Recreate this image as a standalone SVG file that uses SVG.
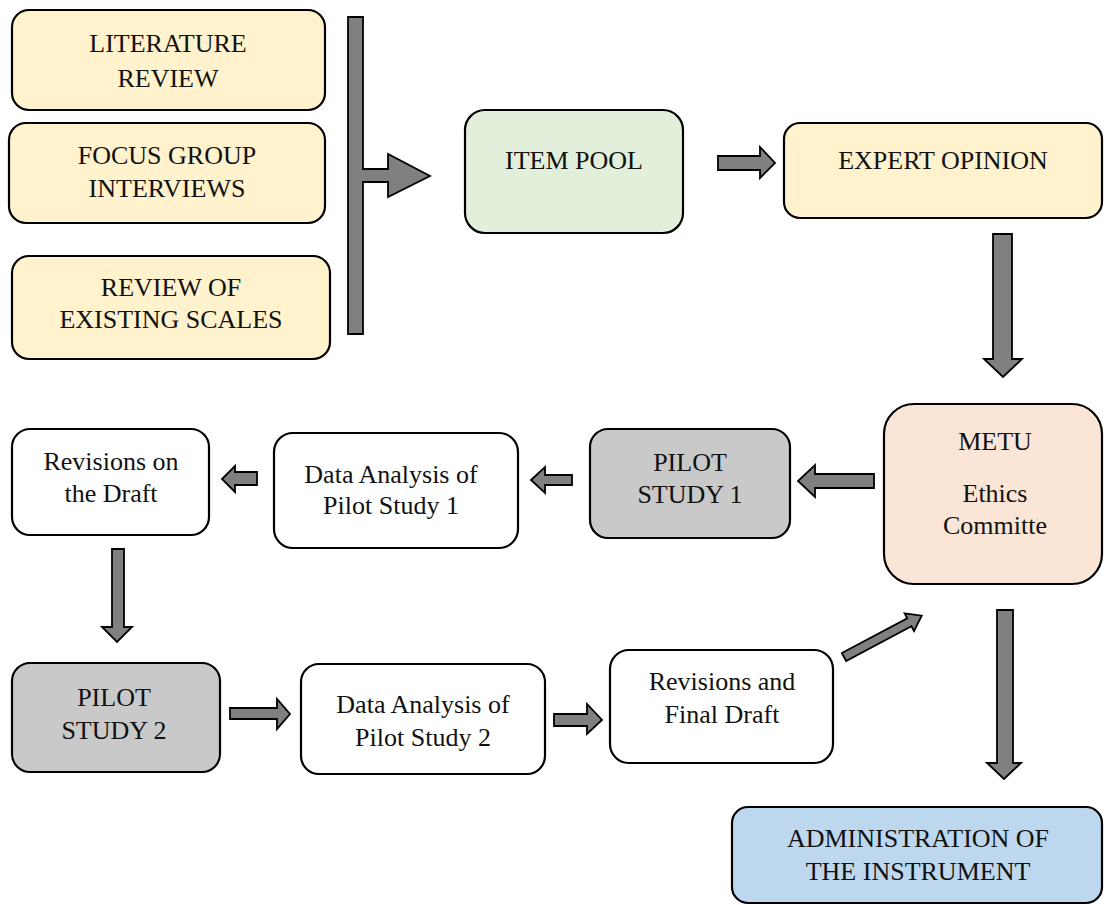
<svg xmlns="http://www.w3.org/2000/svg" width="1104" height="905" viewBox="0 0 1104 905">
<style>
.box{stroke:#000;stroke-width:2.2}
.cream{fill:#FFF2CC}.green{fill:#E2EFDA}.grey{fill:#C9C9C9}.peach{fill:#FBE5D6}.blue{fill:#BDD7EE}.white{fill:#FFFFFF}
text{font-family:"Liberation Serif","Times New Roman",serif;font-size:26px;fill:#111;text-anchor:middle}
.arr{fill:#808080;stroke:#000;stroke-width:1.8;stroke-linejoin:miter}
</style>
<rect width="1104" height="905" fill="#fff"/>
<g id="lit"><rect class="box cream" x="12" y="10" width="313" height="100" rx="17"/><text x="168" y="52">LITERATURE</text><text x="168" y="87">REVIEW</text></g>
<g id="focus"><rect class="box cream" x="9" y="123" width="316" height="100" rx="17"/><text x="167" y="164">FOCUS GROUP</text><text x="167" y="197">INTERVIEWS</text></g>
<g id="review"><rect class="box cream" x="12" y="256" width="318" height="103" rx="17"/><text x="171" y="296">REVIEW OF</text><text x="171" y="328">EXISTING SCALES</text></g>
<g id="itempool"><rect class="box green" x="465" y="110" width="218" height="123" rx="20"/><text x="574" y="169">ITEM POOL</text></g>
<g id="expert"><rect class="box cream" x="784" y="123" width="318" height="95" rx="16"/><text x="943" y="169">EXPERT OPINION</text></g>
<g id="metu"><rect class="box peach" x="884" y="404" width="218" height="180" rx="30"/><text x="995" y="450">METU</text><text x="995" y="502">Ethics</text><text x="995" y="534">Committe</text></g>
<g id="pilot1"><rect class="box grey" x="590" y="429" width="200" height="109" rx="18"/><text x="690" y="471">PILOT</text><text x="690" y="503">STUDY 1</text></g>
<g id="da1"><rect class="box white" x="274" y="433" width="244" height="115" rx="19"/><text x="391" y="483">Data Analysis of</text><text x="391" y="514">Pilot Study 1</text></g>
<g id="revdraft"><rect class="box white" x="12" y="429" width="197" height="106" rx="18"/><text x="111" y="470">Revisions on</text><text x="111" y="502">the Draft</text></g>
<g id="pilot2"><rect class="box grey" x="12" y="663" width="208" height="109" rx="18"/><text x="114" y="706">PILOT</text><text x="114" y="739">STUDY 2</text></g>
<g id="da2"><rect class="box white" x="301" y="664" width="244" height="110" rx="18"/><text x="423" y="713">Data Analysis of</text><text x="423" y="746">Pilot Study 2</text></g>
<g id="revfinal"><rect class="box white" x="610" y="650" width="223" height="113" rx="19"/><text x="722" y="690">Revisions and</text><text x="722" y="723">Final Draft</text></g>
<g id="admin"><rect class="box blue" x="732" y="807" width="370" height="96" rx="16"/><text x="918" y="847">ADMINISTRATION OF</text><text x="918" y="880">THE INSTRUMENT</text></g>
<g id="connectors">
<polygon class="arr" points="348,17 363,17 363,169 388,169 388,154 430,176 388,197 388,182 363,182 363,334 348,334"/>
<polygon class="arr" points="718,156 760,156 760,147 775,163 760,178 760,170 718,170"/>
<polygon class="arr" points="993,234 1012,234 1012,359 1022,359 1003,377 984,359 993,359"/>
<polygon class="arr" points="874,474 815,474 815,465 798,481 815,497 815,488 874,488"/>
<polygon class="arr" points="572,475 545,475 545,467 531,480 545,493 545,485 572,485"/>
<polygon class="arr" points="257,472 235,472 235,466 222,479 235,492 235,485 257,485"/>
<polygon class="arr" points="112,549 124,549 124,627 132,627 117,642 102,627 112,627"/>
<polygon class="arr" points="230,708 277,708 277,699 290,714 277,729 277,719 230,719"/>
<polygon class="arr" points="554,714 587,714 587,704 602,720 587,734 587,726 554,726"/>
<polygon class="arr" transform="translate(844,657) rotate(-28)" points="0,-4.5 74,-4.5 74,-10 88,0 74,10 74,4.5 0,4.5"/>
<polygon class="arr" points="997,610 1013,610 1013,763 1021,763 1004,779 987,763 997,763"/>
</g>
</svg>
